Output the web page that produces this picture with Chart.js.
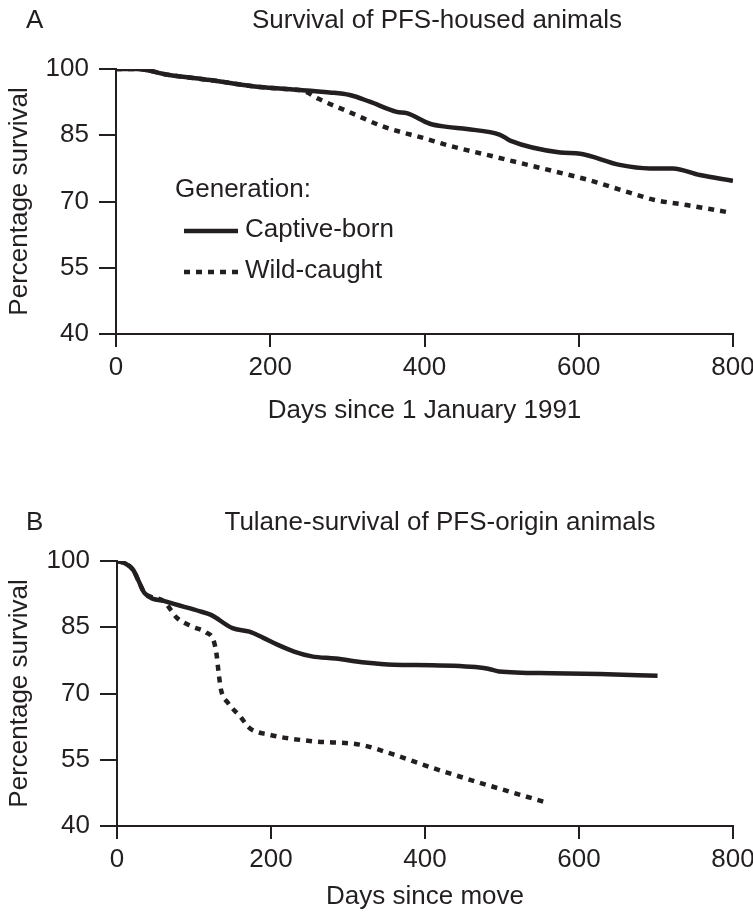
<!DOCTYPE html>
<html>
<head>
<meta charset="utf-8">
<script src="https://cdn.jsdelivr.net/npm/chart.js@4"></script>
<style>
  body { margin: 0; background: #fff; }
  canvas { display: block; }
</style>
</head>
<body>
<canvas id="chartA" width="753" height="440"></canvas>
<canvas id="chartB" width="753" height="472"></canvas>
<script>
// -------------------------------------------------------------------
// Data
// -------------------------------------------------------------------
const X_TICKS = [0, 200, 400, 600, 800];
const Y_TICKS = [40, 55, 70, 85, 100];

// Panel A: survival of PFS-housed animals
const aCaptiveDays = [0, 27, 67, 122, 187, 226, 277, 303, 329, 364, 377, 407, 429, 455, 498, 511, 576, 602, 653, 692, 722, 757, 800];
const aCaptiveSurv = [100, 100, 98.7, 97.5, 95.9, 95.4, 94.7, 94.1, 92.6, 90.3, 90.0, 87.6, 86.9, 86.4, 85.1, 83.8, 81.1, 80.8, 78.3, 77.5, 77.5, 76.0, 74.7];
const aWildDays    = [0, 27, 67, 122, 187, 226, 245, 262, 303, 346, 372, 390, 433, 494, 550, 610, 666, 697, 740, 796];
const aWildSurv    = [100, 100, 98.7, 97.5, 95.9, 95.4, 94.9, 93.3, 90.2, 87.0, 85.6, 84.8, 82.6, 80.0, 77.6, 75.0, 72.0, 70.4, 69.2, 67.5];

// Panel B: Tulane-survival of PFS-origin animals
const bCaptiveDays = [0, 10, 21, 28, 36, 64, 108, 122, 150, 172, 190, 209, 230, 253, 284, 322, 359, 409, 471, 482, 496, 565, 627, 702];
const bCaptiveSurv = [100, 99.5, 98.0, 95.5, 92.7, 90.8, 88.6, 87.8, 84.8, 84.0, 82.6, 81.0, 79.5, 78.4, 77.9, 77.0, 76.5, 76.4, 75.9, 75.6, 75.0, 74.6, 74.4, 74.0];
const bWildDays    = [0, 10, 21, 28, 36, 60, 78, 97, 116, 125, 129, 132, 135, 144, 160, 172, 197, 253, 316, 359, 409, 471, 558];
const bWildSurv    = [100, 99.5, 98.0, 95.5, 92.7, 91.0, 87.1, 85.2, 83.8, 82.2, 79.2, 74.7, 70.9, 67.9, 64.8, 62.2, 60.7, 59.2, 58.4, 56.2, 53.2, 49.8, 45.3];

const SERIES_LABELS = ["Captive-born", "Wild-caught"];

// -------------------------------------------------------------------
// Styling
// -------------------------------------------------------------------
const INK  = "#231f20";
const FONT = '"Liberation Sans", Arial, Helvetica, sans-serif';

Chart.defaults.font.family = FONT;
Chart.defaults.font.size   = 26;
Chart.defaults.color       = INK;

function pts(days, vals) {
  return days.map((d, i) => ({ x: d, y: vals[i] }));
}

// Panel letter + heading drawn on the canvas
const panelText = {
  id: "panelText",
  afterDraw(chart, args, o) {
    const ctx = chart.ctx;
    ctx.save();
    ctx.fillStyle = INK;
    ctx.font = `26px ${FONT}`;
    ctx.textBaseline = "middle";
    ctx.textAlign = "left";
    ctx.fillText(o.letter, o.letterX, o.y);
    ctx.textAlign = "center";
    ctx.fillText(o.title, o.titleX, o.y);
    ctx.restore();
  }
};

// "Generation:" key inside panel A
const genLegend = {
  id: "genLegend",
  afterDraw(chart, args, o) {
    if (!o.show) return;
    const ctx = chart.ctx;
    ctx.save();
    ctx.fillStyle = INK;
    ctx.font = `26px ${FONT}`;
    ctx.textBaseline = "middle";
    ctx.textAlign = "left";
    ctx.fillText(o.heading, o.x - 9, o.y);
    chart.data.datasets.forEach((ds, i) => {
      const y = o.y + o.rowGap * (i + 1);
      ctx.beginPath();
      ctx.strokeStyle = ds.borderColor;
      ctx.lineWidth   = ds.borderWidth;
      ctx.setLineDash(ds.borderDash || []);
      ctx.moveTo(o.x, y);
      ctx.lineTo(o.x + o.sample, y);
      ctx.stroke();
      ctx.setLineDash([]);
      ctx.fillText(ds.label, o.x + o.sample + 7, y - 1);
    });
    ctx.restore();
  }
};

function makeChart(id, captive, wild, cfg) {
  return new Chart(document.getElementById(id), {
    type: "line",
    data: {
      datasets: [
        {
          label: SERIES_LABELS[0],
          data: captive,
          borderColor: INK,
          borderWidth: 4.5,
          pointRadius: 0,
          cubicInterpolationMode: "monotone",
          order: 1
        },
        {
          label: SERIES_LABELS[1],
          data: wild,
          borderColor: INK,
          borderWidth: 4.5,
          borderDash: [6, 6],
          pointRadius: 0,
          cubicInterpolationMode: "monotone",
          order: 2
        }
      ]
    },
    options: {
      responsive: false,
      animation: false,
      events: [],
      layout: { padding: { top: cfg.top, right: 20, left: 0, bottom: 0 } },
      plugins: {
        legend:  { display: false },
        tooltip: { enabled: false },
        panelText: cfg.text,
        genLegend: cfg.legend
      },
      scales: {
        x: {
          type: "linear",
          min: X_TICKS[0],
          max: X_TICKS[X_TICKS.length - 1],
          afterBuildTicks: s => { s.ticks = X_TICKS.map(v => ({ value: v })); },
          afterFit: s => { s.height = cfg.xHeight; s.paddingRight = 0; s.paddingLeft = 0; },
          border: { display: true, color: INK, width: 2 },
          grid: { drawOnChartArea: false, tickLength: 13, color: INK, lineWidth: 2 },
          ticks: { padding: 5, color: INK, font: { size: 26 } },
          title: {
            display: true,
            text: cfg.xTitle,
            color: INK,
            font: { size: 26 },
            padding: { top: 0, bottom: cfg.xTitlePad }
          }
        },
        y: {
          min: Y_TICKS[0],
          max: Y_TICKS[Y_TICKS.length - 1],
          afterBuildTicks: s => { s.ticks = Y_TICKS.map(v => ({ value: v })); },
          afterFit: s => { s.width = cfg.yWidth; },
          border: { display: true, color: INK, width: 2 },
          grid: { drawOnChartArea: false, tickLength: 17, color: INK, lineWidth: 2 },
          ticks: { padding: 10, color: INK, font: { size: 26 } },
          title: {
            display: true,
            text: "Percentage survival",
            color: INK,
            font: { size: 26 },
            padding: { top: 4, bottom: 0 }
          }
        }
      }
    },
    plugins: [panelText, genLegend]
  });
}

// -------------------------------------------------------------------
// Panels
// -------------------------------------------------------------------
makeChart("chartA", pts(aCaptiveDays, aCaptiveSurv), pts(aWildDays, aWildSurv), {
  top: 69,
  xHeight: 106,
  yWidth: 116,
  xTitle: "Days since 1 January 1991",
  xTitlePad: 14,
  text: { letter: "A", letterX: 26, titleX: 437, y: 21, title: "Survival of PFS-housed animals" },
  legend: { show: true, heading: "Generation:", x: 184, y: 190, rowGap: 41, sample: 54 }
});

makeChart("chartB", pts(bCaptiveDays, bCaptiveSurv), pts(bWildDays, bWildSurv), {
  top: 121,
  xHeight: 86,
  yWidth: 117,
  xTitle: "Days since move",
  xTitlePad: 0,
  text: { letter: "B", letterX: 26, titleX: 440, y: 83, title: "Tulane-survival of PFS-origin animals" },
  legend: { show: false }
});
</script>
</body>
</html>
